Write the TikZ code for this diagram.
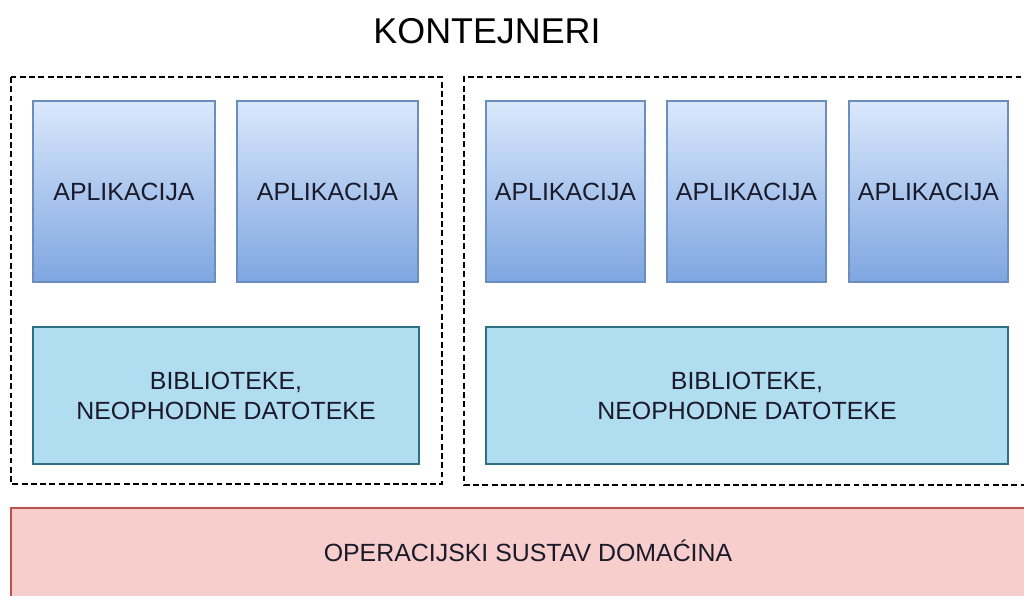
\documentclass[tikz,border=0pt]{standalone}
\usepackage{fontspec}
\setmainfont{Liberation Sans}
\usetikzlibrary{positioning}
\definecolor{appfill}{HTML}{DAE8FC}
\definecolor{appdark}{HTML}{7EA6E0}
\definecolor{appline}{HTML}{6C8EBF}
\definecolor{libfill}{HTML}{B1DDF0}
\definecolor{libline}{HTML}{2F6F86}
\definecolor{osfill}{HTML}{F8CECC}
\definecolor{osline}{HTML}{B85450}
\definecolor{ink}{HTML}{1A1A2A}
\tikzset{body/.style={font=\fontsize{17.7}{21.3}\selectfont, text=ink}}
\tikzset{appbox/.style={body, draw=appline, line width=1.1pt, top color=appfill, bottom color=appdark, inner sep=0pt, minimum height=4.525cm}}
\tikzset{libbox/.style={body, draw=libline, line width=1.1pt, fill=libfill, align=center, inner sep=0pt, minimum height=3.425cm}}
\tikzset{osbox/.style={draw=osline, line width=1.1pt, fill=osfill, inner sep=0pt}}
\tikzset{container/.style={draw=black, line width=1.3pt, dash pattern=on 4.2pt off 2.4pt}}

\begin{document}
\begin{tikzpicture}[x=0.025cm, y=-0.025cm]
        \clip (0,0) rectangle (1024,595);
        \fill[white] (0,0) rectangle (1024,595);

        \node[font=\fontsize{25.5}{30}\selectfont, text=black] (title) at (487,31) {KONTEJNERI};

        % containers
        \draw[container] (11,77) rectangle (442,484);
        \draw[container] (1040,77) -- (464,77) -- (464,485) -- (1040,485);

        % first container
        \node[appbox, minimum width=4.55cm] (app1) at (124,191.5) {APLIKACIJA};
        \node[appbox, minimum width=4.525cm] (app2) at (327.5,191.5) {APLIKACIJA};
        \node[libbox, minimum width=9.65cm] (lib1) at (226,395.5)
            {BIBLIOTEKE,\\NEOPHODNE DATOTEKE};

        % second container
        \node[appbox, minimum width=3.975cm] (app3) at (565.5,191.5) {APLIKACIJA};
        \node[appbox, minimum width=3.975cm] (app4) at (746.5,191.5) {APLIKACIJA};
        \node[appbox, minimum width=3.975cm] (app5) at (928.5,191.5) {APLIKACIJA};
        \node[libbox, minimum width=13.05cm] (lib2) at (747,395.5)
            {BIBLIOTEKE,\\NEOPHODNE DATOTEKE};

        % host
        \node[osbox, minimum width=25.85cm, minimum height=3.3cm] (os) at (528,574) {};
        \node[body] (ostext) at (528,551) {OPERACIJSKI SUSTAV DOMAĆINA};
\end{tikzpicture}
\end{document}
